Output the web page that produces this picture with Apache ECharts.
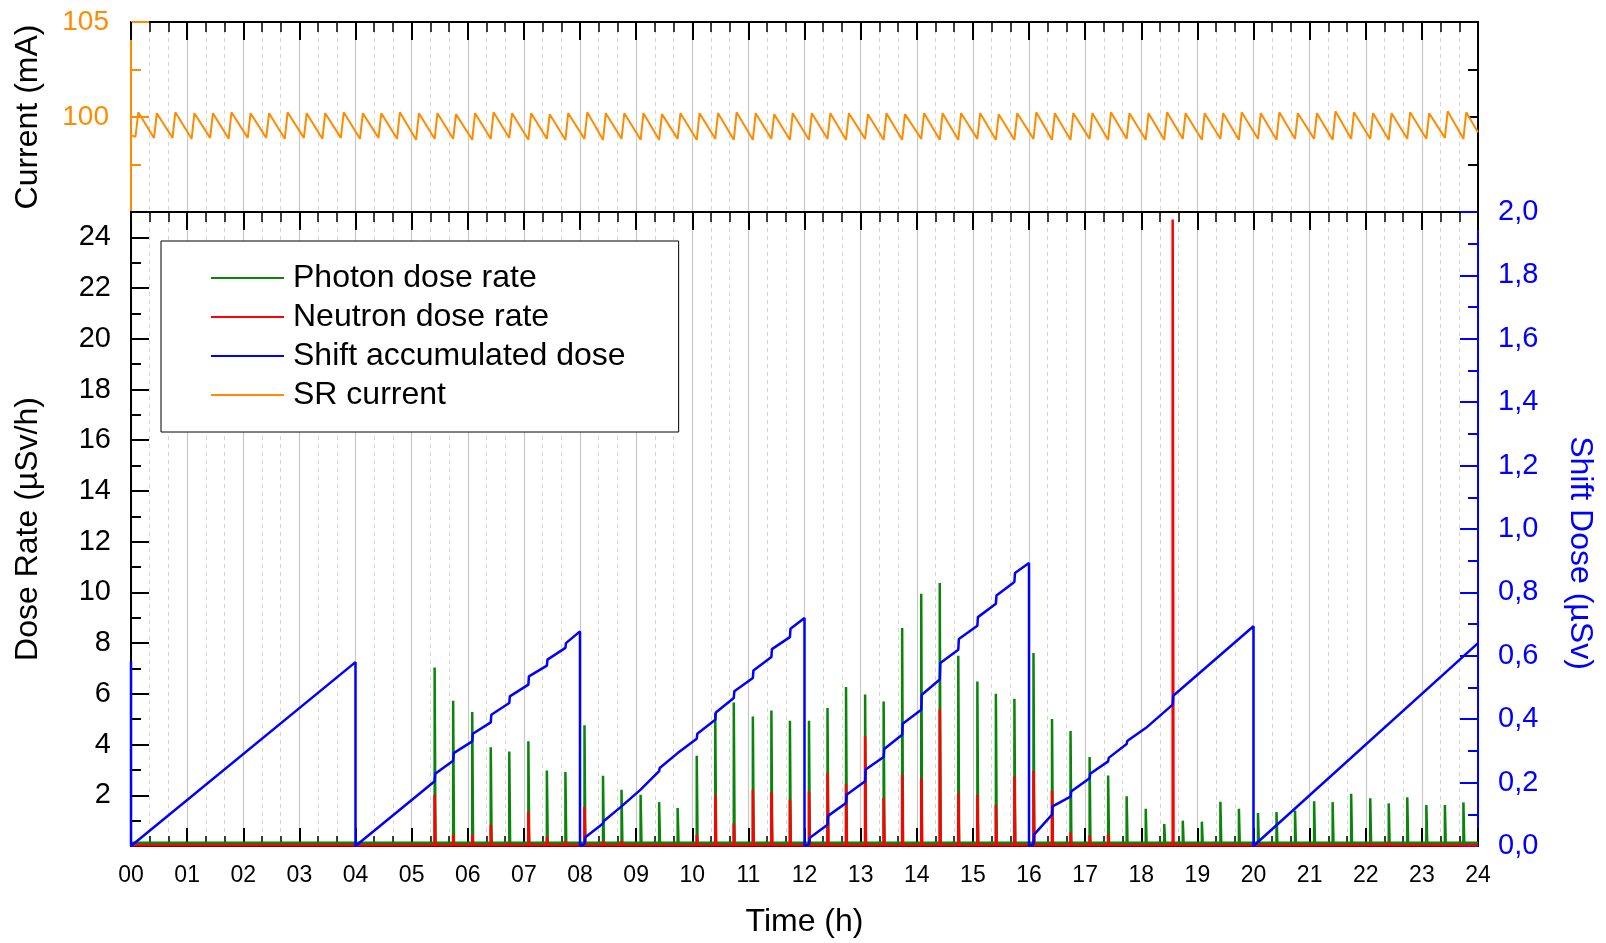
<!DOCTYPE html>
<html>
<head>
<meta charset="utf-8">
<script src="https://cdn.jsdelivr.net/npm/echarts@6/dist/echarts.min.js"></script>
<style>
  html, body { margin: 0; padding: 0; background: #fff; }
  #chart { width: 1606px; height: 943px; }
</style>
</head>
<body>
<div id="chart"></div>
<script>
// top-up injection times (h), every 20 min
const injTimes = [0.08, 0.41, 0.74, 1.08, 1.41, 1.74, 2.08, 2.41, 2.74, 3.08, 3.41, 3.74,
  4.08, 4.41, 4.74, 5.08, 5.41, 5.74, 6.08, 6.41, 6.74, 7.08, 7.41, 7.74,
  8.08, 8.41, 8.74, 9.08, 9.41, 9.74, 10.08, 10.41, 10.74, 11.08, 11.41, 11.74,
  12.08, 12.41, 12.74, 13.08, 13.41, 13.74, 14.08, 14.41, 14.74, 15.08, 15.41, 15.74,
  16.08, 16.41, 16.74, 17.08, 17.41, 17.74, 18.08, 18.41, 18.74, 19.08, 19.41, 19.74,
  20.08, 20.41, 20.74, 21.08, 21.41, 21.74, 22.08, 22.41, 22.74, 23.08, 23.41, 23.74];

// SR current (mA): value just before each top-up and just after it
const currentLow = [98.95, 98.9, 98.9, 98.85, 98.9, 98.85, 98.9, 98.9, 98.85, 98.9, 98.85, 98.9,
  98.85, 98.9, 98.85, 98.8, 98.85, 98.85, 98.8, 98.85, 98.9, 98.8, 98.85, 98.8,
  98.85, 98.8, 98.85, 98.8, 98.8, 98.85, 98.8, 98.85, 98.8, 98.8, 98.85, 98.8,
  98.8, 98.85, 98.8, 98.85, 98.8, 98.8, 98.85, 98.8, 98.8, 98.85, 98.8, 98.8,
  98.85, 98.8, 98.8, 98.85, 98.8, 98.85, 98.8, 98.8, 98.85, 98.8, 98.85, 98.8,
  98.85, 98.8, 98.85, 98.85, 98.8, 98.85, 98.85, 98.8, 98.85, 98.85, 98.9, 98.85];
const currentPeak = [100.25, 100.2, 100.25, 100.2, 100.2, 100.25, 100.2, 100.2, 100.25, 100.2, 100.2, 100.25,
  100.2, 100.2, 100.25, 100.2, 100.2, 100.15, 100.2, 100.25, 100.2, 100.2, 100.15, 100.2,
  100.25, 100.2, 100.2, 100.2, 100.15, 100.2, 100.2, 100.2, 100.25, 100.2, 100.15, 100.2,
  100.2, 100.2, 100.2, 100.15, 100.2, 100.15, 100.2, 100.2, 100.2, 100.2, 100.15, 100.2,
  100.25, 100.2, 100.2, 100.2, 100.25, 100.2, 100.2, 100.25, 100.2, 100.2, 100.2, 100.25,
  100.2, 100.25, 100.2, 100.2, 100.3, 100.25, 100.2, 100.2, 100.25, 100.2, 100.3, 100.25];
const currentStart = 99.05;
const currentEnd = 99.2;

// photon dose rate peaks (µSv/h) at each top-up, null = no peak
const photonPeak = [null, null, null, null, null, null, null, null, null, null, null, null,
  null, null, null, null, 7.04, 5.73, 5.28, 3.89, 3.73, 4.13, 2.98, 2.92,
  4.76, 2.77, 2.22, 2.02, 1.73, 1.50, 3.56, 5.24, 5.66, 5.11, 5.34, 4.94,
  4.94, 5.44, 6.27, 5.97, 5.70, 8.60, 9.95, 10.37, 7.50, 6.49, 6.00, 5.81,
  7.61, 5.01, 4.53, 3.51, 2.78, 1.96, 1.47, 0.87, 1.00, 0.96, 1.74, 1.47,
  1.30, 1.34, 1.40, 1.76, 1.73, 2.06, 1.88, 1.68, 1.92, 1.62, 1.62, 1.72];
const photonBase = 0.13;

// neutron dose rate peaks (µSv/h) at each top-up
const neutronPeak = [null, null, null, null, null, null, null, null, null, null, null, null,
  null, null, null, null, 2.02, 0.45, 0.45, 0.84, 0.14, 1.36, 0.35, 0.20,
  1.54, 0.20, 0.20, 0.10, 0.10, 0.10, 0.43, 2.02, 0.90, 2.22, 2.14, 1.83,
  2.15, 2.89, 2.44, 4.33, 1.89, 2.81, 2.68, 5.40, 2.09, 2.02, 1.63, 2.75,
  2.97, 2.19, 0.54, 0.41, 0.46, 0.10, 0.05, 0.05, 0.05, 0.05, 0.05, 0.05,
  0.05, 0.05, 0.05, 0.05, 0.05, 0.10, 0.12, 0.15, 0.05, 0.05, 0.05, 0.05];
const neutronBurst = [18.56, 24.7];
const neutronBase = 0.03;

// shift accumulated dose (µSv), reset every 4 h
const shiftTime = [0, 0, 4.0, 4.0,
  5.41, 5.42, 5.74, 5.75, 6.08, 6.09, 6.41, 6.42, 6.74, 6.75, 7.08, 7.09, 7.41, 7.42, 7.74, 7.75, 8.0, 8.0,
  8.08, 8.09, 8.41, 8.42, 8.74, 8.75, 9.08, 9.09, 9.41, 9.42, 9.74, 9.75, 10.08, 10.09, 10.41, 10.42,
  10.74, 10.75, 11.08, 11.09, 11.41, 11.42, 11.74, 11.75, 12.0, 12.0,
  12.08, 12.09, 12.41, 12.42, 12.74, 12.75, 13.08, 13.09, 13.41, 13.42, 13.74, 13.75, 14.08, 14.09,
  14.41, 14.42, 14.74, 14.75, 15.08, 15.09, 15.41, 15.42, 15.74, 15.75, 16.0, 16.0,
  16.08, 16.09, 16.41, 16.42, 16.74, 16.75, 17.08, 17.09, 17.41, 17.42, 17.74, 17.75, 18.08, 18.09,
  18.56, 18.57, 20.0, 20.0, 24.0];
const shiftDose = [0.582, 0, 0.58, 0,
  0.204, 0.228, 0.269, 0.293, 0.33, 0.354, 0.39, 0.414, 0.451, 0.472, 0.509, 0.535, 0.569, 0.588, 0.625, 0.64, 0.677, 0,
  0.006, 0.027, 0.071, 0.078, 0.125, 0.13, 0.178, 0.183, 0.236, 0.246, 0.293, 0.298, 0.338, 0.354, 0.398, 0.421,
  0.467, 0.488, 0.53, 0.554, 0.596, 0.621, 0.659, 0.685, 0.719, 0,
  0.006, 0.025, 0.067, 0.095, 0.136, 0.162, 0.204, 0.241, 0.281, 0.306, 0.351, 0.386, 0.43, 0.477,
  0.525, 0.577, 0.619, 0.653, 0.695, 0.722, 0.764, 0.79, 0.833, 0.861, 0.893, 0,
  0.006, 0.036, 0.099, 0.125, 0.156, 0.172, 0.214, 0.228, 0.267, 0.278, 0.322, 0.331, 0.372, 0.378,
  0.446, 0.474, 0.693, 0, 0.64];

const GREEN = '#0a850a', RED = '#ff0000', BLUE = '#0000ff', ORANGE = '#ff8c00';
const FONT = 'Liberation Sans, Arial, sans-serif';

function spikes(peaks, base, extra) {
  let list = [];
  injTimes.forEach((t, i) => { if (peaks[i] != null) list.push([t, peaks[i]]); });
  if (extra) list.push(extra);
  list.sort((a, b) => a[0] - b[0]);
  const pts = [[0, base]];
  list.forEach(p => { pts.push([p[0], base], [p[0], p[1]], [p[0] + 0.015, base]); });
  pts.push([24, base]);
  return pts;
}

const currentData = [[0, currentStart]];
injTimes.forEach((t, i) => { currentData.push([t, currentLow[i]], [t + 0.05, currentPeak[i]]); });
currentData.push([24, currentEnd]);

const shiftData = shiftTime.map((t, i) => [t, shiftDose[i]]);

const gridLeft = 131, gridRight = 128;

function xAxisBase(grid, pos, showGrid) {
  return {
    type: 'value', gridIndex: grid, position: pos, min: 0, max: 24, interval: 1,
    axisLine: { show: true, onZero: false, lineStyle: { color: '#000', width: 2 } },
    axisTick: { show: true, inside: true, length: 18, lineStyle: { color: '#000', width: 2 } },
    minorTick: { show: true, splitNumber: 3, length: 10, lineStyle: { color: '#000', width: 1.5 } },
    axisLabel: { show: false },
    splitLine: { show: showGrid, lineStyle: { color: '#c8c8c8', width: 1.2 } },
    minorSplitLine: { show: showGrid, lineStyle: { color: '#d6d6d6', width: 1, type: [4, 4] } }
  };
}

const chart = echarts.init(document.getElementById('chart'));
chart.setOption({
  animation: false,
  backgroundColor: '#fff',
  textStyle: { fontFamily: FONT },
  grid: [
    { left: gridLeft, right: gridRight, top: 22, height: 190 },
    { left: gridLeft, right: gridRight, top: 212, height: 634 }
  ],
  legend: {
    orient: 'vertical', left: 161, top: 241,
    padding: [20, 53, 20, 50],
    itemWidth: 73, itemHeight: 2, itemGap: 5, icon: 'rect',
    borderColor: '#000', borderWidth: 1, backgroundColor: '#fff',
    textStyle: { fontSize: 32, lineHeight: 34, color: '#000', fontFamily: FONT, padding: [0, 0, 0, 4] },
    data: ['Photon dose rate', 'Neutron dose rate', 'Shift accumulated dose', 'SR current']
  },
  xAxis: [
    xAxisBase(0, 'top', true),
    Object.assign(xAxisBase(1, 'bottom', true), {
      axisLabel: { show: true, fontSize: 23, color: '#000', margin: 18, fontFamily: FONT,
        formatter: v => String(v).padStart(2, '0') },
      name: 'Time (h)', nameLocation: 'middle', nameGap: 60,
      nameTextStyle: { fontSize: 32, color: '#000', fontFamily: FONT }
    }),
    xAxisBase(1, 'top', false)
  ],
  yAxis: [
    {
      type: 'value', gridIndex: 0, position: 'left', min: 95, max: 105, interval: 5,
      axisLine: { show: true, onZero: false, lineStyle: { color: ORANGE, width: 2 } },
      axisTick: { show: true, inside: true, length: 18, lineStyle: { color: ORANGE, width: 2 } },
      minorTick: { show: true, splitNumber: 2, length: 10, lineStyle: { color: ORANGE, width: 2 } },
      axisLabel: { color: ORANGE, fontSize: 28, margin: 22, fontFamily: FONT,
        formatter: v => v === 95 ? '' : String(v) },
      splitLine: { show: false },
      name: 'Current (mA)', nameLocation: 'middle', nameGap: 87,
      nameTextStyle: { fontSize: 32, color: '#000', fontFamily: FONT }
    },
    {
      type: 'value', gridIndex: 0, position: 'right', min: 95, max: 105, interval: 2.5,
      axisLine: { show: true, onZero: false, lineStyle: { color: '#000', width: 2 } },
      axisTick: { show: true, inside: true, length: 10, lineStyle: { color: '#000', width: 2 } },
      axisLabel: { show: false },
      splitLine: { show: false }
    },
    {
      type: 'value', gridIndex: 1, position: 'left', min: 0, max: 25, interval: 2,
      axisLine: { show: true, onZero: false, lineStyle: { color: '#000', width: 2 } },
      axisTick: { show: true, inside: true, length: 18, lineStyle: { color: '#000', width: 2 } },
      minorTick: { show: true, splitNumber: 2, length: 10, lineStyle: { color: '#000', width: 2 } },
      axisLabel: { color: '#000', fontSize: 29, margin: 20, fontFamily: FONT,
        formatter: v => (v === 0 || v === 25) ? '' : String(v) },
      splitLine: { show: false },
      name: 'Dose Rate (µSv/h)', nameLocation: 'middle', nameGap: 87,
      nameTextStyle: { fontSize: 32, color: '#000', fontFamily: FONT }
    },
    {
      type: 'value', gridIndex: 1, position: 'right', min: 0, max: 2, interval: 0.2,
      axisLine: { show: true, onZero: false, lineStyle: { color: BLUE, width: 2 } },
      axisTick: { show: true, inside: true, length: 18, lineStyle: { color: BLUE, width: 2 } },
      minorTick: { show: true, splitNumber: 2, length: 10, lineStyle: { color: BLUE, width: 2 } },
      axisLabel: { color: BLUE, fontSize: 29, margin: 20, fontFamily: FONT,
        formatter: v => v.toFixed(1).replace('.', ',') },
      splitLine: { show: false }
    }
  ],
  graphic: [
    { type: 'text', x: 1580, y: 553, rotation: -Math.PI / 2,
      style: { text: 'Shift Dose (µSv)', fontSize: 32, fontFamily: FONT, fill: BLUE,
        align: 'center', verticalAlign: 'middle' } }
  ],
  series: [
    { name: 'Photon dose rate', type: 'line', xAxisIndex: 1, yAxisIndex: 2,
      data: spikes(photonPeak, photonBase), showSymbol: false, symbol: 'none',
      lineStyle: { color: GREEN, width: 2.5 }, itemStyle: { color: GREEN } },
    { name: 'Neutron dose rate', type: 'line', xAxisIndex: 1, yAxisIndex: 2,
      data: spikes(neutronPeak, neutronBase, neutronBurst), showSymbol: false, symbol: 'none',
      lineStyle: { color: RED, width: 2.5 }, itemStyle: { color: RED } },
    { name: 'Shift accumulated dose', type: 'line', xAxisIndex: 1, yAxisIndex: 3,
      data: shiftData, showSymbol: false, symbol: 'none',
      lineStyle: { color: BLUE, width: 2.5 }, itemStyle: { color: BLUE } },
    { name: 'SR current', type: 'line', xAxisIndex: 0, yAxisIndex: 0,
      data: currentData, showSymbol: false, symbol: 'none',
      lineStyle: { color: ORANGE, width: 2 }, itemStyle: { color: ORANGE } }
  ]
});
</script>
</body>
</html>
